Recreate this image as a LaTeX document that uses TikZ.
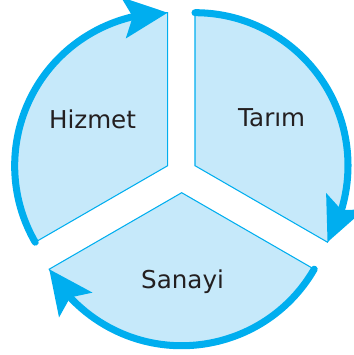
\documentclass[tikz,border=0pt]{standalone}
\usepackage{fontspec}
\setmainfont{DejaVu Sans}
\usetikzlibrary{arrows.meta,bending}
\definecolor{flowcyan}{RGB}{0,174,239}
\definecolor{sectorblue}{RGB}{198,233,250}
\definecolor{labelink}{RGB}{35,31,32}

\begin{document}
\begin{tikzpicture}[x=0.02cm,y=0.02cm,
    sector/.style={fill=sectorblue,draw=flowcyan,line width=0.6pt},
    flow/.style={draw=flowcyan,line width=4pt,line cap=round,
      -{Stealth[length=25pt,width=23pt,inset=5pt,flex]}},
    sectorlabel/.style={anchor=base,text=labelink,font=\fontsize{14}{16}\selectfont}]
    \useasboundingbox(0,0)rectangle(354,355);
    \coordinate(hizmetcorner)at(167.7,189.3);
    \coordinate(tarimcorner)at(195,189.3);
    \coordinate(sanayicorner)at(181.7,162.3);
    \draw[sector](hizmetcorner)--++(90:153)arc[start angle=90,end angle=210,radius=153]--cycle;
    \draw[sector](tarimcorner)--++(90:153)arc[start angle=90,end angle=-30,radius=153]--cycle;
    \draw[sector](sanayicorner)--++(-30:153)arc[start angle=-30,end angle=-150,radius=153]--cycle;
    \path(hizmetcorner)++(210:153)coordinate(hizmetstart);
    \path(tarimcorner)++(90:153)coordinate(tarimstart);
    \path(sanayicorner)++(-30:153)coordinate(sanayistart);
    \draw[flow](hizmetstart)arc[start angle=210,end angle=90,radius=153];
    \draw[flow](tarimstart)arc[start angle=90,end angle=-30,radius=153];
    \draw[flow](sanayistart)arc[start angle=-30,end angle=-150,radius=153];
    \node[sectorlabel](hizmet)at(92.5,226.7){Hizmet};
    \node[sectorlabel](tarim)at(271.7,228.3){Tarım};
    \node[sectorlabel](sanayi)at(182.5,66.7){Sanayi};
\end{tikzpicture}
\end{document}
